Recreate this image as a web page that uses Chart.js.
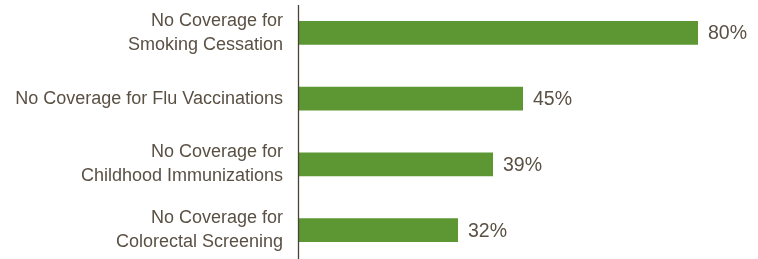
<!DOCTYPE html>
<html>
<head>
<meta charset="utf-8">
<script src="https://cdn.jsdelivr.net/npm/chart.js@4"></script>
<style>
  html, body { margin: 0; padding: 0; background: #fff; overflow: hidden; }
  #wrap { width: 758px; height: 263px; }
</style>
</head>
<body>
<div id="wrap"><canvas id="chart" width="758" height="263"></canvas></div>
<script>
// data
const categories = [
    ['No Coverage for', 'Smoking Cessation'],
    'No Coverage for Flu Vaccinations',
    ['No Coverage for', 'Childhood Immunizations'],
    ['No Coverage for', 'Colorectal Screening']
];
const values = [80, 45, 39, 32];

const barColor = '#5c9733';
const textColor = '#5a5044';
const axisColor = '#4b4236';
const fontFamily = '"Liberation Sans", Arial, sans-serif';

// vertical axis line at x = 0, starting a bit below the top
const axisLine = {
    id: 'axisLine',
    afterDatasetsDraw(chart) {
        const ctx = chart.ctx;
        const x = Math.round(chart.scales.x.getPixelForValue(0)) + 0.5;
        ctx.save();
        ctx.strokeStyle = axisColor;
        ctx.lineWidth = 1.3;
        ctx.beginPath();
        ctx.moveTo(x, chart.chartArea.top + 5);
        ctx.lineTo(x, chart.chartArea.bottom);
        ctx.stroke();
        ctx.restore();
    }
};

// percentage labels after each bar
const valueLabels = {
    id: 'valueLabels',
    afterDatasetsDraw(chart) {
        const ctx = chart.ctx;
        ctx.save();
        ctx.fillStyle = textColor;
        ctx.font = '19.5px ' + fontFamily;
        ctx.textAlign = 'left';
        ctx.textBaseline = 'middle';
        chart.getDatasetMeta(0).data.forEach((bar, i) => {
            ctx.fillText(values[i] + '%', bar.x + 10, bar.y + 1);
        });
        ctx.restore();
    }
};

new Chart(document.getElementById('chart'), {
    type: 'bar',
    data: {
        labels: categories,
        datasets: [{
            data: values,
            backgroundColor: barColor,
            borderWidth: 0,
            barPercentage: 0.36,
            categoryPercentage: 1
        }]
    },
    options: {
        indexAxis: 'y',
        responsive: false,
        animation: false,
        layout: { padding: { top: 0, right: 10, bottom: 0, left: 0 } },
        plugins: {
            legend: { display: false },
            tooltip: { enabled: false }
        },
        scales: {
            x: {
                display: false,
                min: 0,
                max: 90
            },
            y: {
                grid: { display: false, drawTicks: false },
                border: { display: false },
                afterFit(scale) {
                    scale.width = 298;
                    scale.paddingTop = 0;
                    scale.paddingBottom = 0;
                },
                ticks: {
                    color: textColor,
                    padding: 15,
                    font: { family: fontFamily, size: 18, lineHeight: 1.32 }
                }
            }
        }
    },
    plugins: [axisLine, valueLabels]
});
</script>
</body>
</html>
